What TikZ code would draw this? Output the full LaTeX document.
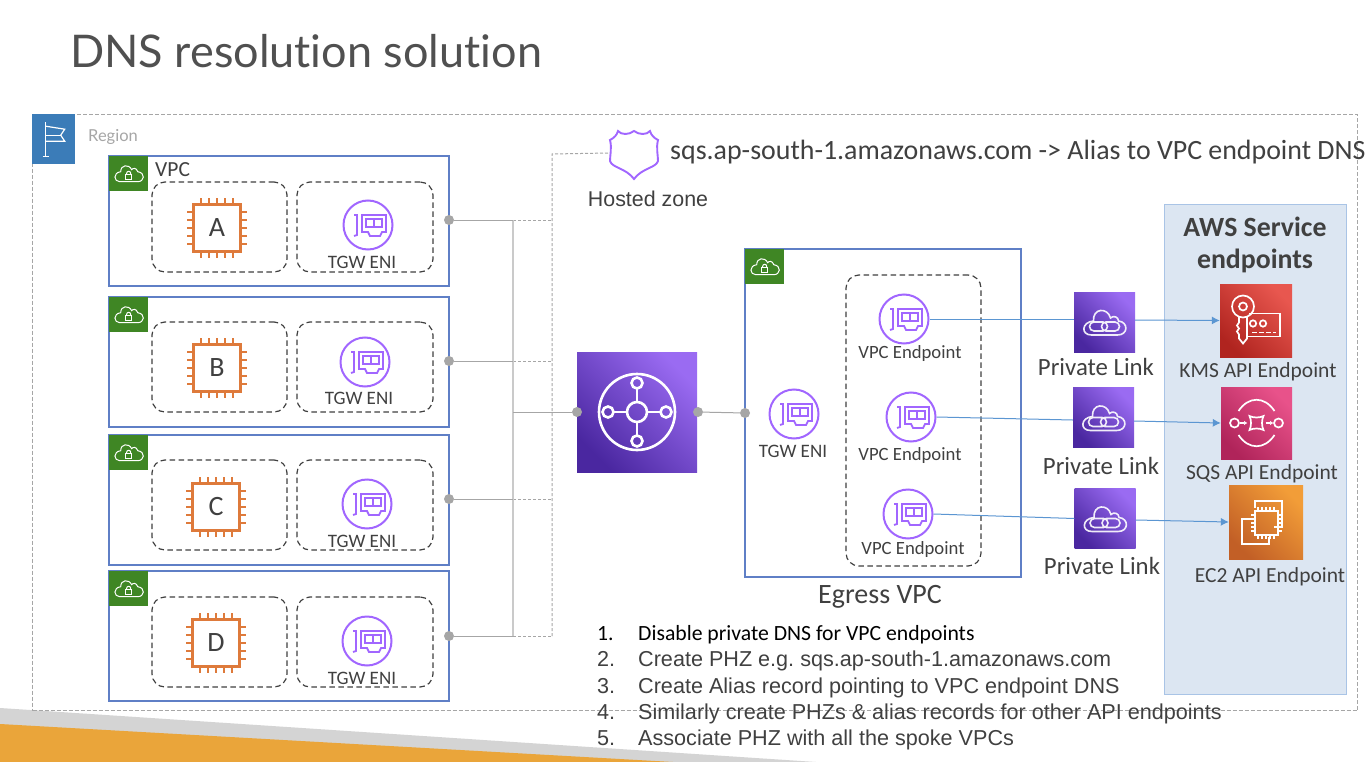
\documentclass[tikz,border=0pt]{standalone}
\usepackage{fontspec}
\setmainfont{Carlito}
\newfontfamily\arialfont{Liberation Sans}
\newfontfamily\latofont[Ligatures=NoCommon]{Lato}
\frenchspacing
\usetikzlibrary{arrows.meta, calc}
\definecolor{textgray}{HTML}{404040}
\definecolor{titlegray}{HTML}{505050}
\definecolor{linegray}{HTML}{A6A6A6}
\definecolor{vpcblue}{HTML}{5F7FC6}
\definecolor{vpcgreen}{HTML}{3F8624}
\definecolor{regionblue}{HTML}{3B7CB8}
\definecolor{enipurple}{HTML}{A166FF}
\definecolor{chiporange}{HTML}{DE7A3B}
\definecolor{arrowblue}{HTML}{5B96D2}
\definecolor{servicefill}{HTML}{DCE6F2}
\definecolor{serviceline}{HTML}{A9C4E6}
\definecolor{violetlight}{HTML}{9A6BF2}
\definecolor{violetdark}{HTML}{4A27A0}
\definecolor{kmslight}{HTML}{E8574F}
\definecolor{kmsdark}{HTML}{B0241F}
\definecolor{sqslight}{HTML}{E8528A}
\definecolor{sqsdark}{HTML}{B0245A}
\definecolor{ectwolight}{HTML}{F29D38}
\definecolor{ectwodark}{HTML}{C25F26}
\definecolor{stripegray}{HTML}{D4D4D4}
\definecolor{stripeorange}{HTML}{EAA53A}
\tikzset{
    pics/flagicon/.style={code={
        \draw[white, line width=1.2] (-8,-17) -- (-8,17) (-11,17) -- (-5,17);
        \draw[white, line width=1.2] (-8,-13) -- (11,-10) -- (7,-4) -- (11,2) -- (-8,2);
        \draw[white, line width=1.2] (-8,-4) -- (7,-4);
    }},
    pics/vpcicon/.style={code={
        \draw[white, line width=1] (-9,8) -- (9,8) .. controls (16,8) and (17,-1) .. (9,-2) .. controls (8,-6) and (4,-6) .. (3,-4) .. controls (0,-10) and (-8,-9) .. (-8,-2) .. controls (-16,-1) and (-15,8) .. (-9,8) -- cycle;
        \draw[white, line width=1] (-3,1) rectangle (3,5.5);
        \draw[white, line width=1] (-2,1) -- (-2,-0.5) .. controls (-2,-3) and (2,-3) .. (2,-0.5) -- (2,1);
    }},
    pics/chippins/.style={code={
        \foreach \p in {-16,-8,0,8,16} {
            \draw[chiporange, line width=2] (\p,-30) -- (\p,-24) (\p,24) -- (\p,30);
            \draw[chiporange, line width=2] (-30,\p) -- (-24,\p) (24,\p) -- (30,\p);
        }
    }},
    pics/eniicon/.style={code={
        \draw[enipurple, line width=1.8] (-14,-10) -- (-11,-10) -- (-11,10) -- (-14,11);
        \draw[enipurple, line width=1.8] (-7,-10) -- (18,-10) -- (18,7) -- (14,7) -- (12,11) -- (2,11) -- (0,7) -- (-6,7) -- (-6,-10);
        \draw[enipurple, line width=1.8] (-2,-6) rectangle (14,2) (6,-6) -- (6,2);
    }},
    pics/hubicon/.style={code={
        \draw[white, line width=2.6] (0,0) circle (38) (0,0) circle (10);
        \draw[white, line width=2.6] (0,-29) circle (5.5) (0,29) circle (5.5) (-29,0) circle (5.5) (29,0) circle (5.5);
        \draw[white, line width=2.6] (0,-10) -- (0,-23.5) (0,10) -- (0,23.5) (-10,0) -- (-23.5,0) (10,0) -- (23.5,0);
    }},
    pics/linkicon/.style={code={
        \draw[white, line width=1.6, opacity=0.9] (-13,13) -- (13,13) .. controls (24,13) and (24,0) .. (14,-1) .. controls (14,-5) and (9,-7) .. (6,-4) .. controls (3,-15) and (-12,-14) .. (-11,-1) .. controls (-23,0) and (-24,13) .. (-13,13) -- cycle;
        \draw[white, line width=1.6, opacity=0.9, rounded corners=4.5] (-15,0) rectangle (3,9) (-3,0) rectangle (15,9);
    }},
    pics/kmsicon/.style={code={
        \draw[white, line width=1.7] (-13,-14) circle (11) (-13,-14) circle (4);
        \draw[white, line width=1.7] (-17,-4) -- (-17,2) -- (-19,5) -- (-17,8) -- (-19,11) -- (-17,14) -- (-17,18) -- (-13,23) -- (-9,18) -- (-9,-4);
        \draw[white, line width=1.7] (-7,-7) -- (24,-7) -- (24,16) -- (-9,16);
        \draw[white, line width=1.7] (-3,3) circle (3.2) (7,3) circle (3.2);
        \draw[white, line width=1.7, dashed, dash pattern=on 5 off 2] (-4,12) -- (20,12);
    }},
    pics/sqsicon/.style={code={
        \draw[white, line width=1.7] (-18,-12) .. controls (-8,-27) and (8,-27) .. (18,-12);
        \draw[white, line width=1.7] (-18,12) .. controls (-8,27) and (8,27) .. (18,12);
        \draw[white, line width=1.7] (-22,0) circle (4.5) (22,0) circle (4.5);
        \draw[white, line width=1.7] (-7,-7) .. controls (-3,-5) and (3,-5) .. (7,-7) .. controls (5,-3) and (5,3) .. (7,7) .. controls (3,5) and (-3,5) .. (-7,7) .. controls (-5,3) and (-5,-3) .. (-7,-7) -- cycle;
        \draw[white, line width=1.5, -{Latex[length=3.5,width=4.5]}] (-17,0) -- (-9,0);
        \draw[white, line width=1.5, -{Latex[length=3.5,width=4.5]}] (9,0) -- (17,0);
    }},
    pics/ectwoicon/.style={code={
        \draw[white, line width=1.7] (-11,-14) -- (-11,-21) -- (16,-21) -- (16,5) -- (8,5);
        \draw[white, line width=1.7] (-14,-3) -- (-24,-3) -- (-24,22) -- (3,22) -- (3,15);
        \draw[white, line width=1.7] (-11,-11) rectangle (12,13);
        \foreach \p in {-8,-4,0,4,8} {
            \draw[white, line width=1.1] (\p,-15) -- (\p,-11) (\p,13) -- (\p,17);
            \draw[white, line width=1.1] (-15,\p+1) -- (-11,\p+1) (12,\p+1) -- (16,\p+1);
        }
    }},
    pics/zoneicon/.style={code={
        \draw[enipurple, line width=1.9] (-24,-13) .. controls (-20,-15) and (-17,-18) .. (-16,-22) .. controls (-13,-18) and (-5,-18) .. (0,-22) .. controls (5,-18) and (13,-18) .. (16,-22) .. controls (17,-18) and (20,-15) .. (24,-13) .. controls (22,-5) and (24,2) .. (24,8) .. controls (22,15) and (8,15) .. (0,26) .. controls (-8,15) and (-22,15) .. (-24,8) .. controls (-24,2) and (-22,-5) .. (-24,-13) -- cycle;
    }}
}
\begin{document}
\begin{tikzpicture}[
    x=1pt, y=-1pt,
    vpcbox/.style={draw=vpcblue, line width=1.7, outer sep=0, anchor=north west, minimum width=#1, inner sep=0},
    vpcbox/.default=340,
    dashbox/.style={draw=textgray, line width=1.2, outer sep=0, dashed, dash pattern=on 5.5 off 3.5, rounded corners=13, anchor=north west, inner sep=0},
    badge/.style={fill=vpcgreen, anchor=north west, minimum width=39, minimum height=35, inner sep=0},
    chipbox/.style={draw=chiporange, line width=2.2, fill=white, minimum size=47, inner sep=0, text=textgray, font=\fontsize{28}{30}\selectfont},
    enibox/.style={circle, draw=enipurple, line width=2, minimum size=49, inner sep=0},
    dot/.style={circle, fill=linegray, minimum size=10, inner sep=0},
    wire/.style={draw=linegray, line width=1},
    bus/.style={draw=linegray!60, line width=1.5},
    dashwire/.style={draw=linegray, line width=1, dashed, dash pattern=on 3 off 2},
    arrow/.style={draw=arrowblue, line width=1},
    tipped/.style={arrow, -{Latex[length=8,width=8]}},
    linksquare/.style={bottom color=violetdark, top color=violetlight, shading angle=-45, minimum width=61, minimum height=60, inner sep=0},
    smalllabel/.style={text=textgray, font=\fontsize{19}{21}\selectfont},
    midlabel/.style={text=textgray, font=\fontsize{21.5}{24}\selectfont},
    linklabel/.style={text=textgray, font=\fontsize{24.8}{27}\selectfont},
    listnum/.style={anchor=base west, inner sep=0, text=textgray, font=\arialfont\fontsize{21.6}{24}\selectfont},
    listtext/.style={anchor=base west, inner sep=0, text=textgray, font=\arialfont\fontsize{21.6}{24}\selectfont}
]
    \useasboundingbox (0,0) rectangle (1372,762);

    % Corner stripes
    \fill[white] (0,0) rectangle (1372,762);
    \fill[stripegray] (0,708) -- (816,762) -- (0,762) -- cycle;
    \fill[stripeorange] (0,724) -- (673,762) -- (0,762) -- cycle;

    % Title
    \node[anchor=base west, inner sep=0, text=titlegray, font=\latofont\fontsize{45}{50}\selectfont] (title) at (70,68) {DNS resolution solution};

    % Region
    \node[draw=linegray, line width=1.2, dashed, dash pattern=on 4 off 2, anchor=north west, minimum width=1325, minimum height=596, inner sep=0] (region) at (32,114) {};
    \node[fill=regionblue, anchor=north west, minimum width=43, minimum height=50, inner sep=0] (flag) at (32,114) {};
    \pic at (flag.center) {flagicon};
    \node[anchor=west, inner sep=0, text=linegray, font=\latofont\fontsize{16.5}{18}\selectfont] (regionlabel) at (88,137) {Region};

    % VPC A
    \node[vpcbox, minimum height=130] (vpca) at (109,156) {};
    \node[badge] (badgea) at (109,156) {};
    \pic at (badgea.center) {vpcicon};
    \node[anchor=west, inner sep=0, midlabel] (vpclabel) at (155,170) {VPC};
    \node[dashbox, minimum width=135, minimum height=90] (hosta) at (152,182) {};
    \node[dashbox, minimum width=136, minimum height=90] (nica) at (297,182) {};
    \pic at (217,228) {chippins};
    \node[chipbox] (chipa) at (217,228) {A};
    \node[enibox] (enia) at (368,225) {};
    \pic at (enia.center) {eniicon};
    \node[smalllabel] (enilabela) at (362,262) {TGW ENI};

    % VPC B
    \node[vpcbox, minimum height=130] (vpcb) at (109,297) {};
    \node[badge] (badgeb) at (109,297) {};
    \pic at (badgeb.center) {vpcicon};
    \node[dashbox, minimum width=135, minimum height=90] (hostb) at (152,322) {};
    \node[dashbox, minimum width=136, minimum height=90] (nicb) at (297,322) {};
    \pic at (217,368) {chippins};
    \node[chipbox] (chipb) at (217,368) {B};
    \node[enibox] (enib) at (365,362) {};
    \pic at (enib.center) {eniicon};
    \node[smalllabel] (enilabelb) at (359,398) {TGW ENI};

    % VPC C
    \node[vpcbox, minimum height=130] (vpcc) at (109,435) {};
    \node[badge] (badgec) at (109,435) {};
    \pic at (badgec.center) {vpcicon};
    \node[dashbox, minimum width=135, minimum height=90] (hostc) at (152,460) {};
    \node[dashbox, minimum width=136, minimum height=90] (nicc) at (297,460) {};
    \pic at (216,507) {chippins};
    \node[chipbox] (chipc) at (216,507) {C};
    \node[enibox] (enic) at (367,504) {};
    \pic at (enic.center) {eniicon};
    \node[smalllabel] (enilabelc) at (362,541) {TGW ENI};

    % VPC D
    \node[vpcbox, minimum height=130] (vpcd) at (109,571) {};
    \node[badge] (badged) at (109,571) {};
    \pic at (badged.center) {vpcicon};
    \node[dashbox, minimum width=135, minimum height=90] (hostd) at (152,597) {};
    \node[dashbox, minimum width=136, minimum height=90] (nicd) at (297,597) {};
    \pic at (216,643) {chippins};
    \node[chipbox] (chipd) at (216,643) {D};
    \node[enibox] (enid) at (367,641) {};
    \pic at (enid.center) {eniicon};
    \node[smalllabel] (enilabeld) at (362,678) {TGW ENI};

    % Hosted zone
    \node[minimum width=48, minimum height=48, inner sep=0] (zone) at (634,153) {};
    \pic at (zone.center) {zoneicon};
    \node[text=textgray, font=\arialfont\fontsize{21.4}{24}\selectfont] (zonelabel) at (648,199) {Hosted zone};
    \node[anchor=base west, inner sep=0, text=textgray, font=\fontsize{27.9}{30}\selectfont] (aliaslabel) at (670,160) {sqs.ap-south-1.amazonaws.com -> Alias to VPC endpoint DNS};

    % Transit gateway
    \node[bottom color=violetdark, top color=violetlight, shading angle=-45, minimum size=120, inner sep=0] (tgw) at (637,412) {};
    \pic at (tgw.center) {hubicon};

    % Egress VPC
    \node[vpcbox=276, minimum height=328] (egress) at (745,249) {};
    \node[badge] (badgee) at (745,249) {};
    \pic at (badgee.center) {vpcicon};
    \node[dashbox, minimum width=135, minimum height=291] (endpoints) at (846,275) {};
    \node[enibox] (enie) at (794,414) {};
    \pic at (enie.center) {eniicon};
    \node[smalllabel] (enilabele) at (793,451) {TGW ENI};
    \node[text=textgray, font=\fontsize{28}{30}\selectfont] (egresslabel) at (880,597) {Egress VPC};

    \node[enibox] (epa) at (904,319) {};
    \pic at (epa.center) {eniicon};
    \node[smalllabel, font=\fontsize{18.7}{21}\selectfont] (eplabela) at (910,354) {VPC Endpoint};
    \node[enibox] (epb) at (911,417) {};
    \pic at (epb.center) {eniicon};
    \node[smalllabel, font=\fontsize{18.7}{21}\selectfont] (eplabelb) at (910,456) {VPC Endpoint};
    \node[enibox] (epc) at (908,514) {};
    \pic at (epc.center) {eniicon};
    \node[smalllabel, font=\fontsize{18.7}{21}\selectfont] (eplabelc) at (913,550) {VPC Endpoint};

    % AWS service endpoints
    \node[draw=serviceline, line width=1.4, fill=servicefill, anchor=north west, minimum width=182, minimum height=490, inner sep=0] (services) at (1164,204) {};
    \node[align=center, text=textgray, font=\bfseries\fontsize{27.8}{32}\selectfont] (serviceslabel) at (1255,245) {AWS Service\\endpoints};

    % Private links
    \node[linksquare] (linka) at (1104.5,322) {};
    \pic at (linka.center) {linkicon};
    \node[linklabel] (linklabela) at (1096,367) {Private Link};
    \node[linksquare] (linkb) at (1103.5,417.5) {};
    \pic at (linkb.center) {linkicon};
    \node[linklabel] (linklabelb) at (1101,466) {Private Link};
    \node[linksquare] (linkc) at (1105,518.5) {};
    \pic at (linkc.center) {linkicon};
    \node[linklabel] (linklabelc) at (1102,566) {Private Link};

    % KMS
    \node[bottom color=kmsdark, top color=kmslight, shading angle=-45, minimum width=72, minimum height=73, inner sep=0] (kms) at (1256,320.5) {};
    \pic at (kms.center) {kmsicon};
    \node[midlabel] (kmslabel) at (1258,372) {KMS API Endpoint};

    % SQS
    \node[bottom color=sqsdark, top color=sqslight, shading angle=-45, minimum width=71, minimum height=72, inner sep=0] (sqs) at (1256.5,423) {};
    \pic at (sqs.center) {sqsicon};
    \node[midlabel] (sqslabel) at (1262,474) {SQS API Endpoint};

    % EC2
    \node[bottom color=ectwodark, top color=ectwolight, shading angle=-45, minimum width=74, minimum height=74, inner sep=0] (ectwo) at (1266,522) {};
    \pic at (ectwo.center) {ectwoicon};
    \node[midlabel] (ectwolabel) at (1270,577) {EC2 API Endpoint};

    % Spoke wiring
    \coordinate (busa) at (513,220);
    \coordinate (busb) at (513,361);
    \coordinate (busc) at (513,499);
    \coordinate (busd) at (513,636);
    \coordinate (bust) at (513,412);
    \coordinate (zonea) at (552,220);
    \coordinate (zoneb) at (552,361);
    \coordinate (zonec) at (552,499);
    \coordinate (zoned) at (552,636);
    \coordinate (zonetop) at (552,154);
    \node[dot] (dota) at (449,220) {};
    \node[dot] (dotb) at (449,361) {};
    \node[dot] (dotc) at (449,499) {};
    \node[dot] (dotd) at (449,636) {};
    \node[dot] (dottl) at (577,412) {};
    \node[dot] (dottr) at (698,412) {};
    \node[dot] (dote) at (745,413) {};

    \draw[dashwire] (busa) -- (zonea);
    \draw[dashwire] (busb) -- (zoneb);
    \draw[dashwire] (busc) -- (zonec);
    \draw[dashwire] (busd) -- (zoned);
    \draw[dashwire] (zoned) -- (zonetop) -- (zone.west);
    \draw[bus] (busa) -- (busd);
    \draw[wire] (dota) -- (busa);
    \draw[wire] (dotb) -- (busb);
    \draw[wire] (dotc) -- (busc);
    \draw[wire] (dotd) -- (busd);
    \draw[wire] (bust) -- (dottl);
    \draw[wire] (dottr) -- (dote);

    % Endpoint arrows
    \draw[arrow] (epa.east) -- ([yshift=3pt]linka.west);
    \draw[tipped] ([yshift=2pt]linka.east) -- (kms.west);
    \draw[arrow] (epb.east) -- ([yshift=-2.5pt]linkb.west);
    \draw[tipped] ([yshift=-3.5pt]linkb.east) -- (sqs.west);
    \draw[arrow] (epc.east) -- (linkc.west);
    \draw[tipped] ([yshift=-1.5pt]linkc.east) -- (ectwo.west);

    % Steps
    \node[listnum, text=black, font=\fontsize{21.7}{24}\selectfont] (numa) at (597,640) {1.};
    \node[listtext, text=black, font=\fontsize{21.7}{24}\selectfont] (stepa) at (638,640) {Disable private DNS for VPC endpoints};
    \node[listnum] (numb) at (597,666) {2.};
    \node[listtext] (stepb) at (638,666) {Create PHZ e.g. sqs.ap-south-1.amazonaws.com};
    \node[listnum] (numc) at (597,693) {3.};
    \node[listtext] (stepc) at (638,693) {Create Alias record pointing to VPC endpoint DNS};
    \node[listnum] (numd) at (597,719) {4.};
    \node[listtext] (stepd) at (638,719) {Similarly create PHZs \& alias records for other API endpoints};
    \node[listnum] (nume) at (597,745) {5.};
    \node[listtext] (stepe) at (638,745) {Associate PHZ with all the spoke VPCs};
\end{tikzpicture}
\end{document}
